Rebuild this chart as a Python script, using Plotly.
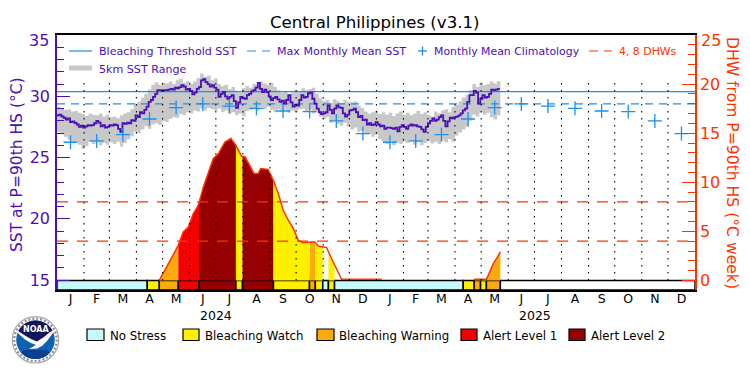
import numpy as np
import plotly.graph_objects as go

W, H = 750, 375
L, R, T, B = 57, 695, 35, 290
PURPLE = "#4a0fb8"
RED = "#ff3300"
BLUE = "#1a90f0"
GREY = "#c8c8c8"
FONT = "DejaVu Sans"

month_len_2024 = [31, 29, 31, 30, 31, 30, 31, 31, 30, 31, 30, 31]
month_len_2025 = [31, 28, 31, 30, 31, 30, 31, 31, 30, 31, 30, 31]
month_letters = ["J", "F", "M", "A", "M", "J", "J", "A", "S", "O", "N", "D"]
year_labels = ["2024", "2025"]

# SST, one reading every 2.5 days from 1 Jan 2024
sst_vals = [
    28.45,28.5,28.37,28.25,28.1,28.2,27.9,27.95,27.83,27.7,27.5,27.6,27.45,27.55,27.65,27.6,27.65,27.8,28.0,27.85,
    27.55,27.65,27.45,27.5,27.65,27.6,27.7,27.65,27.35,27.1,27.8,27.75,27.85,27.8,28.05,28.0,28.45,28.3,28.7,28.6,
    28.9,29.15,29.55,29.7,29.95,30.2,30.5,30.5,30.45,30.5,30.5,30.55,30.6,30.55,30.7,30.65,30.75,30.9,30.8,30.55,
    30.6,30.45,30.15,30.3,30.6,30.75,31.3,31.4,31.15,31.0,30.8,30.9,30.7,30.55,29.95,30.2,30.35,30.0,29.8,29.95,
    30.1,29.6,29.05,29.5,29.95,29.85,29.8,30.1,30.2,30.4,30.5,30.7,31.1,30.6,30.35,30.55,30.35,30.0,29.7,29.85,
    29.95,29.75,29.55,29.65,29.4,29.7,30.1,29.5,29.15,29.3,29.25,29.7,30.1,29.9,29.95,30.25,30.3,29.8,29.4,29.0,
    28.7,28.55,28.6,28.7,29.25,28.9,28.6,29.0,29.25,29.1,29.05,28.6,28.35,28.5,28.85,28.9,29.0,28.7,28.3,28.4,
    28.05,28.1,27.7,27.8,27.65,27.7,27.9,27.7,27.55,27.6,27.35,27.45,27.45,27.4,27.35,27.45,27.15,27.5,27.65,27.5,
    27.35,27.6,27.7,27.6,27.65,27.55,27.5,27.3,27.1,27.5,27.8,28.0,28.2,28.0,28.1,28.3,28.45,28.0,27.55,27.95,
    28.25,28.2,28.3,28.35,28.45,28.6,28.85,29.0,29.55,30.1,30.1,30.45,30.3,29.4,29.8,30.1,29.9,29.95,30.2,30.55,30.5,30.55,30.6,30.6,
]
sst_days = [i * 2.5 for i in range(len(sst_vals))]

# 5km SST range, one reading every 4 days
range_high = [
    29.15,29.0,28.9,28.95,28.75,28.8,28.65,28.55,28.4,28.6,28.5,28.45,28.6,28.35,28.5,28.3,
    28.35,28.2,28.45,28.6,28.7,28.95,29.4,29.55,29.9,30.2,30.55,30.95,31.15,30.95,31.1,31.05,
    31.2,31.0,31.3,31.45,31.1,31.25,31.0,31.2,31.5,31.85,31.6,31.7,31.3,31.45,31.0,30.85,
    30.95,30.6,30.75,30.45,30.3,30.65,30.85,30.7,31.0,30.9,31.2,31.05,30.95,31.1,30.75,30.5,
    30.3,30.45,30.15,30.3,30.5,30.35,30.65,30.5,30.6,30.7,30.2,29.85,29.6,29.7,29.45,29.75,
    29.6,29.45,29.7,29.55,29.5,29.6,29.25,29.05,28.75,28.6,28.7,28.8,28.55,28.7,28.5,28.65,
    28.4,28.6,28.75,28.5,28.65,28.45,28.6,28.8,28.55,28.7,28.5,28.35,28.75,28.6,28.85,28.95,
    28.7,29.15,29.3,29.6,29.9,30.1,30.5,31.0,30.75,31.1,30.9,31.0,31.2,31.05,31.25,31.35,
]
range_low = [
    27.1,26.9,26.7,26.45,26.2,26.3,26.05,25.7,25.95,26.3,26.1,26.25,26.0,26.2,26.05,26.25,
    26.1,26.3,25.9,26.2,26.5,26.75,27.1,27.0,27.3,27.55,27.35,27.7,27.8,27.65,28.0,27.9,
    28.15,28.3,28.25,28.55,28.45,28.7,28.6,28.85,28.75,29.0,28.85,29.05,28.95,28.8,29.0,28.7,
    28.85,28.55,28.7,28.45,28.6,28.35,28.8,28.9,29.0,28.85,29.1,28.95,29.15,28.9,28.7,28.95,
    28.75,28.9,28.65,28.85,28.7,28.95,29.0,28.75,28.9,28.6,28.75,28.35,28.15,28.3,27.85,28.0,
    27.75,27.6,27.85,27.55,27.3,27.45,27.1,27.2,26.9,26.95,26.7,26.85,26.5,26.3,26.1,26.35,
    26.0,26.25,26.1,26.3,26.2,26.4,26.05,26.25,26.0,26.2,26.35,26.15,26.3,26.1,26.4,26.25,
    26.5,26.3,26.8,27.05,27.3,27.5,28.0,28.5,28.35,28.7,28.5,28.65,28.3,28.1,28.45,28.25,
]
range_days = [i * 4 for i in range(len(range_high))]

clim_2yr = [26.25,26.36,26.87,28.15,29.08,29.38,29.2,29.02,28.8,28.75,27.99,26.96]
bleaching_threshold = 30.38
max_monthly_mean = 29.38
dhw_levels = [4, 8]

dhw_days = [117.2,121.8,127.5,133.2,139,144.7,150.4,156.1,161.9,167.6,173.3,179,184.8,192.4,199.3,205,211.5,215.3,221,225.6,230.6,233.3,242,247.8,253.5,259.2,265,270.7,276.4,282.1,289.8,295.5,299.3,308.9,312.7,318.4,324.1,326,347,372]
dhw_vals = [0,0.7,1.7,2.6,3.6,4.95,5.45,6.8,7.65,9.5,10.9,12.4,12.9,14.1,14.45,13.76,12.65,12.6,11.7,10.9,10.9,11.4,11.3,10.2,8.85,7.15,6.15,5.3,4.1,3.85,3.93,3.93,3.5,3.35,2.6,1.55,0.37,0.13,0.13,0.13]
dhw2_days = [478,492,496,500,504,508]
dhw2_vals = [0.13,0.13,0.9,1.75,2.3,2.9]

stress_labels = ["No Stress", "Bleaching Watch", "Bleaching Warning", "Alert Level 1", "Alert Level 2"]
stress_colors = ["#c6fafa", "#fff000", "#fdab0c", "#f50000", "#960000"]
bar_edges = [0,103.4,117.2,139,162.7,205,212.5,248,289.3,296,304.5,311,318,465.4,478,485.3,492,508,731]
bar_level = [0,1,2,3,4,1,4,1,2,1,0,1,0,1,2,1,2,None]

title_text = "Central Philippines (v3.1)"
left_title = "SST at P=90th HS (°C)"
right_title = "DHW from P=90th HS (°C week)"

days_in = month_len_2024 + month_len_2025
starts = np.cumsum([0] + days_in)
mids = (starts[:-1] + starts[1:]) / 2

def px(x):
    return (x - L) / (R - L)
def py(y):
    return (B - y) / (B - T)

sst_bot = 14.2
dhw_bot = -0.97

fig = go.Figure()

fig.add_trace(go.Scatter(x=range_days, y=range_high, mode="lines", line=dict(width=0, shape="hv"), showlegend=False, hoverinfo="skip"))
fig.add_trace(go.Scatter(x=range_days, y=range_low, mode="lines", line=dict(width=0, shape="hv"), fill="tonexty", fillcolor=GREY, showlegend=False, hoverinfo="skip"))
fig.add_trace(go.Scatter(x=[0, 731], y=[bleaching_threshold]*2, mode="lines", line=dict(color=BLUE, width=1.2), showlegend=False))
fig.add_trace(go.Scatter(x=[0, 731], y=[max_monthly_mean]*2, mode="lines", line=dict(color=BLUE, width=1.2, dash="8px,6px"), showlegend=False))
fig.add_trace(go.Scatter(x=sst_days, y=sst_vals, mode="lines", line=dict(color=PURPLE, width=1.8, shape="hv"), showlegend=False))
fig.add_trace(go.Scatter(x=mids, y=clim_2yr + clim_2yr, mode="markers", marker=dict(symbol="cross-thin", size=10, line=dict(color=BLUE, width=1.3)), showlegend=False))

for a, b, lev in zip(bar_edges[:-1], bar_edges[1:], bar_level):
    if lev in (None, 0) or b <= dhw_days[0] or (a >= dhw_days[-1] and a < dhw2_days[0]):
        continue
    if a < dhw_days[-1]:
        ds, vs = dhw_days, dhw_vals
    else:
        ds, vs = dhw2_days, dhw2_vals
    inner = [d for d in ds if a < d < b]
    xs = [a] + inner + [b]
    ys = list(np.interp(xs, ds, vs))
    fig.add_trace(go.Scatter(x=[a] + xs + [b], y=[0] + ys + [0], yaxis="y2", mode="lines", line=dict(width=0), fill="toself", fillcolor=stress_colors[lev], showlegend=False, hoverinfo="skip"))

fig.add_trace(go.Scatter(x=dhw_days, y=dhw_vals, yaxis="y2", mode="lines", line=dict(color=RED, width=1.5), showlegend=False))
fig.add_trace(go.Scatter(x=dhw2_days, y=dhw2_vals, yaxis="y2", mode="lines", line=dict(color=RED, width=1.5), showlegend=False))
for lv in dhw_levels:
    fig.add_trace(go.Scatter(x=[0, 731], y=[lv]*2, yaxis="y2", mode="lines", line=dict(color=RED, width=1.2, dash="11px,9px"), showlegend=False))

dx, dy = [], []
for s in starts[1:-1]:
    dx += [s, s, None]
    dy += [0, 20.4, None]
fig.add_trace(go.Scatter(x=dx, y=dy, yaxis="y2", mode="lines", line=dict(color="black", width=1.1, dash="1.5px,5.5px"), showlegend=False, hoverinfo="skip"))

bar_x = [(a + b) / 2 for a, b in zip(bar_edges[:-1], bar_edges[1:])]
bar_w = [b - a for a, b in zip(bar_edges[:-1], bar_edges[1:])]
bar_c = ["white" if l is None else stress_colors[l] for l in bar_level]
fig.add_trace(go.Bar(x=bar_x, y=[0 - dhw_bot]*len(bar_x), base=dhw_bot, width=bar_w, yaxis="y2", marker=dict(color=bar_c, line=dict(color="black", width=1.5)), showlegend=False))

shapes, ann = [], []

def text(x, y, s, size, color="black", angle=0, anchor="left", weight="normal"):
    ann.append(dict(x=px(x), y=py(y), xref="paper", yref="paper", text=s, showarrow=False, xanchor=anchor, yanchor="middle",
                    textangle=angle, font=dict(family=FONT, size=size, color=color, weight=weight)))

def lseg(x0, x1, y, color, width=1.2, dash="solid"):
    shapes.append(dict(type="line", xref="paper", yref="paper", x0=px(x0), x1=px(x1), y0=py(y), y1=py(y), line=dict(color=color, width=width, dash=dash)))

def poly(points, fill, line=None, lw=0):
    d = "M " + " L ".join(f"{px(a):.4f},{py(b):.4f}" for a, b in points) + " Z"
    shapes.append(dict(type="path", xref="paper", yref="paper", path=d, fillcolor=fill, line=dict(color=line or fill, width=lw)))

text(375, 23, title_text, 16.6, anchor="center")
text(17, 165, left_title, 15.5, PURPLE, -90, "center")
text(732, 163, right_title, 15.6, RED, 90, "center")
text(51, 40, "35", 16, PURPLE, anchor="right")
text(698.5, 40, "25", 16, RED, anchor="left")
for xc, lab in zip([(starts[5] + starts[7]) / 2, (starts[17] + starts[19]) / 2], year_labels):
    ann.append(dict(x=xc, y=py(315.5), xref="x", yref="paper", text=lab, showarrow=False, yanchor="middle", font=dict(family=FONT, size=12.5, color="black")))

# top legend
lseg(69, 92, 51, BLUE)
text(96.5, 51, "Bleaching Threshold SST", 11.1, PURPLE)
lseg(247, 270, 51, BLUE, dash="9px,6px")
text(275, 51, "Max Monthly Mean SST", 11.1, PURPLE)
lseg(418, 427, 51, BLUE, 1.3)
shapes.append(dict(type="line", xref="paper", yref="paper", x0=px(422.5), x1=px(422.5), y0=py(46.5), y1=py(55.5), line=dict(color=BLUE, width=1.3)))
text(431.5, 51, "Monthly Mean Climatology", 10.9, PURPLE)
lseg(589, 612, 51, RED, dash="9px,6px")
text(616.5, 51, "4, 8 DHWs", 10.9, RED)
lseg(69, 92, 68, GREY, width=5)
text(96.5, 69, "5km SST Range", 11.1, PURPLE)

# bottom legend
for x0, x1, c, s, tx in [(87, 104, stress_colors[0], stress_labels[0], 107.5),
                         (183, 199, stress_colors[1], stress_labels[1], 202.5),
                         (317, 334, stress_colors[2], stress_labels[2], 336.5),
                         (461, 477, stress_colors[3], stress_labels[3], 480.5),
                         (569, 585, stress_colors[4], stress_labels[4], 588.5)]:
    shapes.append(dict(type="rect", xref="paper", yref="paper", x0=px(x0), x1=px(x1), y0=py(329), y1=py(340.5), fillcolor=c, line=dict(color="black", width=1.2)))
    text(tx, 335.5, s, 11.8)

# NOAA logo
cx, cy = 35.5, 339.8
def disc(r, fill, line=None, lw=0, dash="solid"):
    shapes.append(dict(type="circle", xref="paper", yref="paper", x0=px(cx - r), x1=px(cx + r), y0=py(cy - r), y1=py(cy + r),
                       fillcolor=fill, line=dict(color=line or fill, width=lw, dash=dash)))
disc(23.2, "white", "#a8a8a8", 1.2)
disc(21.2, "rgba(0,0,0,0)", "#8c8c8c", 2.2, "2px,2px")
disc(19.3, "#0b62b4")
ang_low = np.radians(np.linspace(40, 140, 20))
poly([(cx + 19.3 * np.cos(t), cy + 19.3 * np.sin(t)) for t in ang_low] + [(24, 350), (47, 350)], "#0a3f96")
ang_top = np.radians(np.linspace(205, 335, 30))
poly([(cx + 19.3 * np.cos(t), cy + 19.3 * np.sin(t)) for t in ang_top] + [(49, 335), (43, 340), (37, 343), (30, 340), (24, 335)], "#16135c")
poly([(15.5, 331), (20, 335), (25, 339.5), (31, 343), (36, 345), (29, 349), (37, 348.5), (42, 346), (47, 341), (51, 335.5), (56, 329),
      (50, 332), (44, 337), (37, 341.5), (31, 339), (24, 335), (18, 331)], "white")
text(35.5, 330, "NOAA", 8, "white", anchor="center", weight="bold")

fig.update_layout(
    width=W, height=H, margin=dict(l=L, r=W - R, t=T, b=H - B), plot_bgcolor="white", paper_bgcolor="white",
    barmode="overlay", showlegend=False, shapes=shapes, annotations=ann,
    font=dict(family=FONT),
    xaxis=dict(range=[0, 731], showgrid=False, zeroline=False, showline=True, mirror=True, linecolor="black", linewidth=1.5,
               tickmode="array", tickvals=list(mids), ticktext=month_letters * 2, ticks="", ticklabelstandoff=-4,
               tickfont=dict(family=FONT, size=12.5, color="black")),
    yaxis=dict(range=[sst_bot, 35], tickvals=[15, 20, 25, 30, 35], ticktext=["15", "20", "25", "30", ""], showgrid=False, zeroline=False, showline=True, linecolor=PURPLE, linewidth=1.5,
               ticks="inside", ticklen=13, tickcolor=PURPLE, tickwidth=1.2, ticklabelstandoff=2, tickfont=dict(family=FONT, size=16, color=PURPLE),
               minor=dict(dtick=1, ticks="inside", ticklen=7, tickcolor=PURPLE, tickwidth=1.2)),
    yaxis2=dict(range=[dhw_bot, 25], overlaying="y", side="right", tickvals=[0, 5, 10, 15, 20, 25], ticktext=["0", "5", "10", "15", "20", ""], showgrid=False, zeroline=False, showline=True, linecolor=RED, linewidth=1.5,
                ticks="inside", ticklen=13, tickcolor=RED, tickwidth=1.2, tickfont=dict(family=FONT, size=16, color=RED),
                minor=dict(dtick=1, ticks="inside", ticklen=7, tickcolor=RED, tickwidth=1.2)),
)

fig.write_html("out.html", config={"displayModeBar": False}, post_script="document.body.style.margin='0';")
